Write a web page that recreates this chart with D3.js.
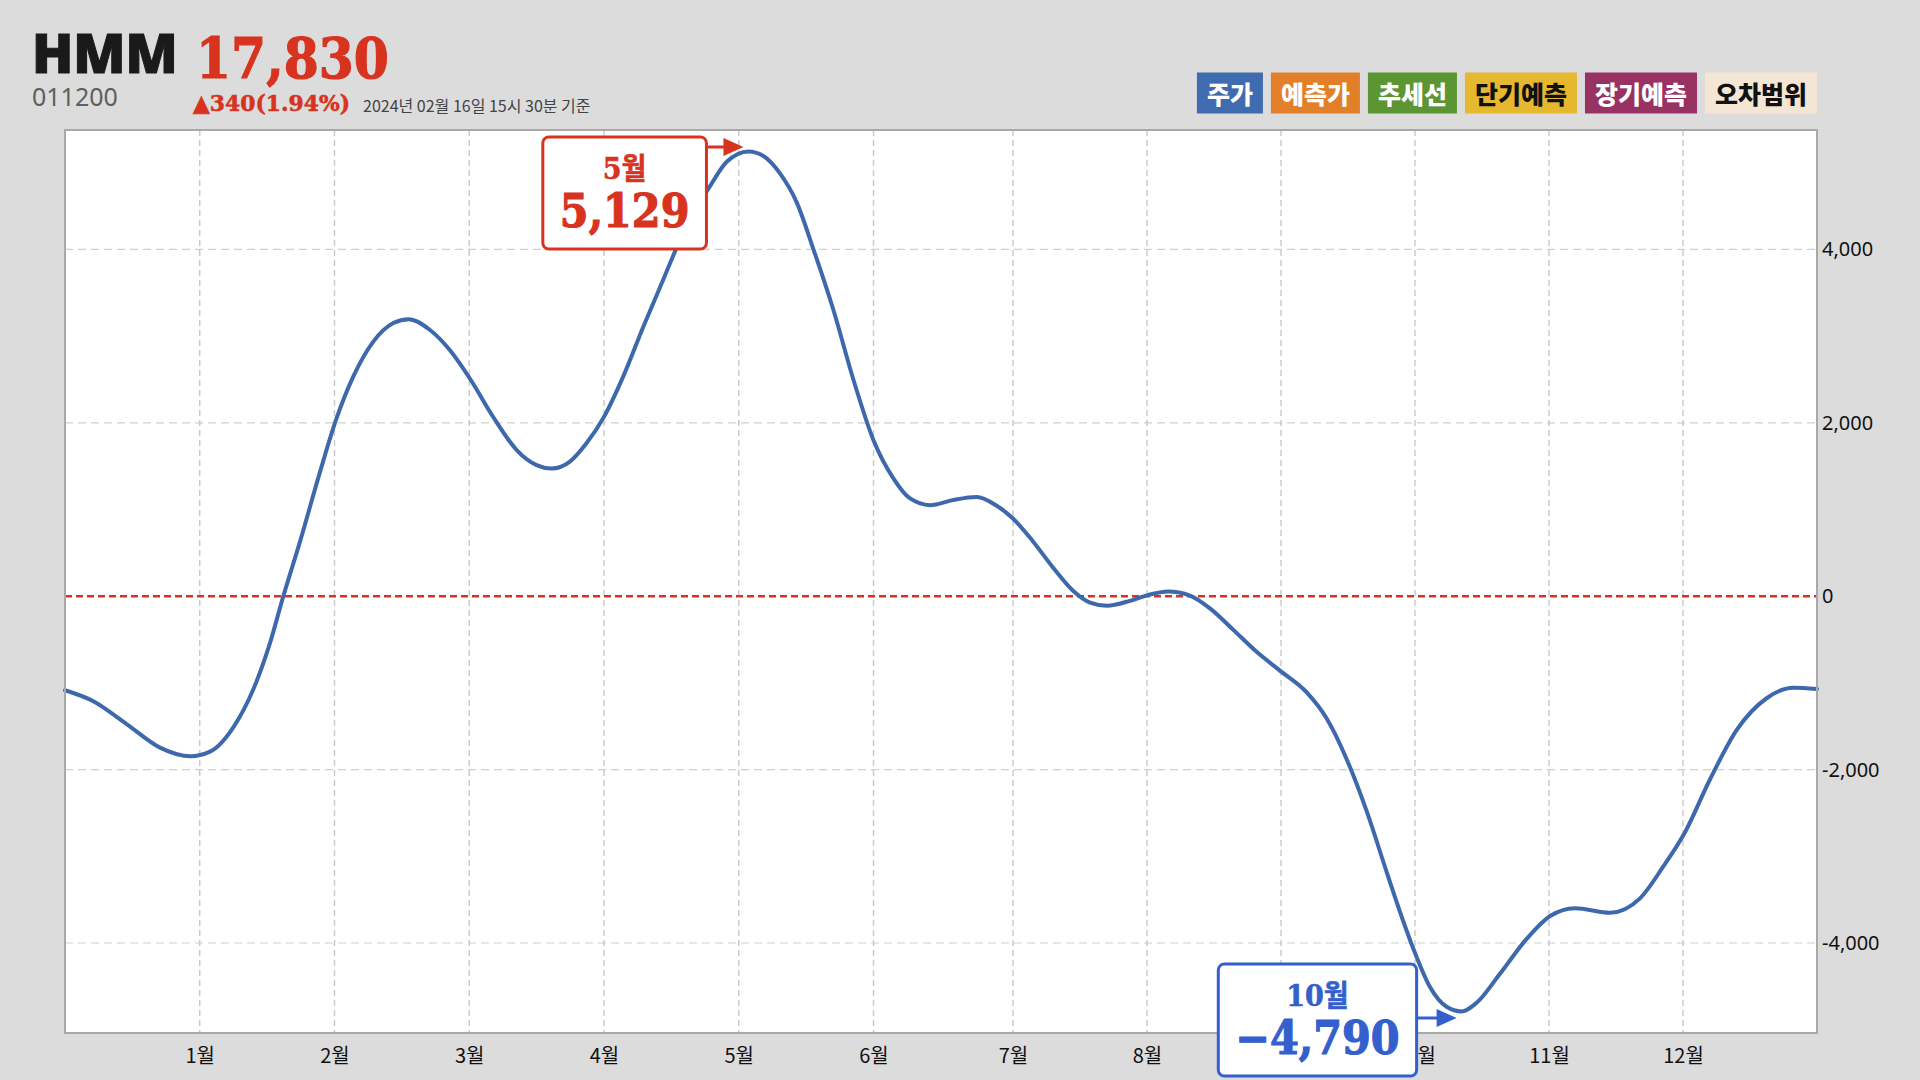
<!DOCTYPE html>
<html><head><meta charset="utf-8">
<script src="https://cdn.jsdelivr.net/npm/d3@7"></script>
<style>
html,body{margin:0;padding:0;background:#dcdcdc;}
svg{display:block;}
</style></head><body>
<svg id="chart" width="1920" height="1080"></svg>
<script>
// ---------- data ----------
const stockName = "HMM";
const stockCode = "011200";
const stockPrice = 17830;
const priceChange = 340;
const priceChangePct = 1.94;
const asOfText = "2024년 02월 16일 15시 30분 기준";

const legendLabels = ["주가", "예측가", "추세선", "단기예측", "장기예측", "오차범위"];
const legendColors = ["#3f6bb0", "#e2802a", "#5b9632", "#e6b82f", "#973262", "#f5e5d5"];
const legendTextColors = ["#ffffff", "#ffffff", "#ffffff", "#111111", "#ffffff", "#111111"];

const monthTicks = [1, 2, 3, 4, 5, 6, 7, 8, 9, 10, 11, 12];
const yTicks = [-4000, -2000, 0, 2000, 4000];

// position in months (tick k = start of month k) and value
const monthPos = [0.00, 0.21, 0.46, 0.705, 0.93, 1.076, 1.249, 1.397, 1.521, 1.62, 1.744, 1.892, 2.011, 2.14, 2.288, 2.437, 2.55, 2.709, 2.857, 3.008, 3.178, 3.352, 3.5, 3.611, 3.747, 3.871, 4.004, 4.143, 4.291, 4.44, 4.564, 4.688, 4.787, 4.911, 5.072, 5.183, 5.306, 5.43, 5.553, 5.702, 5.85, 6.0, 6.14, 6.26, 6.405, 6.572, 6.74, 6.883, 7.0, 7.151, 7.3, 7.45, 7.575, 7.70, 7.873, 8.005, 8.159, 8.321, 8.47, 8.644, 8.818, 9.007, 9.192, 9.341, 9.49, 9.64, 9.789, 9.913, 10.01, 10.112, 10.236, 10.348, 10.46, 10.634, 10.833, 11.012, 11.194, 11.455, 11.679, 11.853, 12.017, 12.201, 12.4, 12.624, 12.823, 13.0];
const values = [-1085, -1211, -1478, -1746, -1846, -1793, -1512, -1077, -542, 0, 629, 1431, 2033, 2535, 2936, 3150, 3195, 3070, 2836, 2502, 2067, 1686, 1512, 1472, 1552, 1766, 2080, 2535, 3104, 3652, 4107, 4480, 4730, 5010, 5129, 5077, 4876, 4542, 4007, 3304, 2502, 1799, 1365, 1130, 1050, 1110, 1144, 1043, 896, 629, 328, 60, -74, -110, -54, 13, 54, 7, -140, -388, -642, -876, -1110, -1411, -1880, -2482, -3184, -3752, -4154, -4508, -4736, -4790, -4689, -4355, -3953, -3686, -3599, -3652, -3485, -3117, -2716, -2114, -1545, -1177, -1057, -1070];

// ---------- layout ----------
const svg = d3.select("#chart");
const plot = {left: 65, right: 1817, top: 130, bottom: 1033};
const RED = "#d7331f", BLUE = "#3360cc", LINE = "#3d69ac";
const serif = "'DejaVu Serif', 'Noto Sans CJK KR', serif";
const sans = "'Noto Sans', 'Noto Sans CJK KR', sans-serif";
const kr = "'Noto Sans CJK KR', 'Noto Sans', sans-serif";

const data = monthPos.map((m, i) => ({m, v: values[i]}));
const vMin = d3.min(values), vMax = d3.max(values);
const pad = (vMax - vMin) * 0.025;

const x = d3.scaleLinear().domain([0, 6, 7, 13]).range([plot.left, 873.5, 1013, plot.right]);
const y = d3.scaleLinear().domain([vMin - pad, vMax + pad]).range([plot.bottom, plot.top]);

const fmt = d3.format(",");
const fmtH = v => fmt(v).replace("−", "-");

// plot background
svg.append("rect").attr("x", plot.left).attr("y", plot.top)
  .attr("width", plot.right - plot.left).attr("height", plot.bottom - plot.top)
  .attr("fill", "#ffffff");

// grid
svg.append("g").selectAll("line").data(yTicks.filter(t => t !== 0)).join("line")
  .attr("x1", plot.left).attr("x2", plot.right)
  .attr("y1", d => y(d)).attr("y2", d => y(d))
  .attr("stroke", "#cfcfcf").attr("stroke-width", 1.2).attr("stroke-dasharray", "8,5");
svg.append("g").selectAll("line").data(monthTicks).join("line")
  .attr("x1", d => x(d)).attr("x2", d => x(d))
  .attr("y1", plot.top).attr("y2", plot.bottom)
  .attr("stroke", "#c8c8c8").attr("stroke-width", 1.4).attr("stroke-dasharray", "6,4");

// zero line
svg.append("line").attr("x1", plot.left).attr("x2", plot.right)
  .attr("y1", y(0)).attr("y2", y(0))
  .attr("stroke", RED).attr("stroke-width", 2.5).attr("stroke-dasharray", "7,4");

// series line
const line = d3.line().x(d => x(d.m)).y(d => y(d.v)).curve(d3.curveMonotoneX);
svg.append("path").datum(data).attr("d", line)
  .attr("fill", "none").attr("stroke", LINE).attr("stroke-width", 4)
  .attr("stroke-linejoin", "round").attr("stroke-linecap", "round");

// border
svg.append("rect").attr("x", plot.left).attr("y", plot.top)
  .attr("width", plot.right - plot.left).attr("height", plot.bottom - plot.top)
  .attr("fill", "none").attr("stroke", "#a9a9a9").attr("stroke-width", 2);

// axes
const xAxis = svg.append("g").attr("transform", `translate(0,${plot.bottom})`)
  .call(d3.axisBottom(x).tickValues(monthTicks).tickFormat(d => d + "월").tickSize(0).tickPadding(16));
xAxis.select(".domain").remove();
xAxis.selectAll("text").attr("font-family", kr).attr("font-size", 20).attr("fill", "#111");

const yAxis = svg.append("g").attr("transform", `translate(${plot.right},0)`)
  .call(d3.axisRight(y).tickValues(yTicks).tickFormat(fmtH).tickSize(0).tickPadding(5));
yAxis.select(".domain").remove();
yAxis.selectAll("text").attr("font-family", sans).attr("font-size", 20).attr("fill", "#111");

// ---------- header ----------
svg.append("text").attr("x", 32).attr("y", 73).text(stockName)
  .attr("font-family", sans).attr("font-weight", 900).attr("font-size", 54).attr("fill", "#1a1a1a")
  .attr("stroke", "#1a1a1a").attr("stroke-width", 1);
svg.append("text").attr("transform", "translate(196,78) scale(0.9,1)").text(fmt(stockPrice))
  .attr("font-family", serif).attr("font-weight", 700).attr("font-size", 56).attr("fill", RED)
  .attr("stroke", RED).attr("stroke-width", 1.2);
svg.append("text").attr("x", 32).attr("y", 106).text(stockCode)
  .attr("font-family", sans).attr("font-size", 25).attr("fill", "#5f5f5f");
svg.append("text").attr("transform", "translate(193,111) scale(0.95,1)").text(`▲${priceChange}(${priceChangePct.toFixed(2)}%)`)
  .attr("font-family", serif).attr("font-weight", 700).attr("font-size", 23).attr("fill", RED)
  .attr("stroke", RED).attr("stroke-width", 0.6);
svg.append("text").attr("x", 363).attr("y", 112).text(asOfText)
  .attr("font-family", kr).attr("font-size", 16).attr("fill", "#444");

// ---------- legend ----------
const legG = svg.append("g");
const items = legendLabels.map((l, i) => {
  const g = legG.append("g");
  const r = g.append("rect").attr("height", 41).attr("fill", legendColors[i]);
  const t = g.append("text").text(l).attr("font-family", kr).attr("font-weight", 900)
    .attr("font-size", 25).attr("fill", legendTextColors[i]).attr("text-anchor", "middle")
    .attr("dominant-baseline", "central");
  const w = t.node().getComputedTextLength() + 20;
  r.attr("width", w);
  return {g, r, t, w};
});
let cursor = plot.right;
for (let i = items.length - 1; i >= 0; i--) {
  const it = items[i];
  const left = cursor - it.w;
  it.r.attr("x", left).attr("y", 72.5);
  it.t.attr("x", left + it.w / 2).attr("y", 93);
  cursor = left - 8;
}

// ---------- annotations ----------
function annotate(pt, color, opts) {
  const px = x(pt.m), py = y(pt.v);
  const g = svg.append("g");
  const label = Math.floor(pt.m) + "월";
  const sx = 0.9;
  const lab = g.append("text").text(label).attr("font-family", serif).attr("font-weight", 700)
    .attr("font-size", 30).attr("fill", color).attr("text-anchor", "middle")
    .attr("stroke", color).attr("stroke-width", 0.6);
  const val = g.append("text").text(fmt(pt.v)).attr("font-family", serif).attr("font-weight", 700)
    .attr("font-size", 46).attr("fill", color).attr("text-anchor", "middle")
    .attr("stroke", color).attr("stroke-width", 1.2);
  const tw = val.node().getComputedTextLength() * sx;
  const bw = tw + 34, bh = 112;
  const bRight = px - opts.dx;
  const bLeft = bRight - bw;
  const bTop = py + opts.boxDy;
  const cx = bLeft + bw / 2;
  g.insert("rect", "text").attr("x", bLeft).attr("y", bTop).attr("width", bw).attr("height", bh)
    .attr("rx", 6).attr("fill", "#fff").attr("stroke", color).attr("stroke-width", 3);
  lab.attr("transform", `translate(${cx},${bTop + 42}) scale(${sx},1)`);
  val.attr("transform", `translate(${cx},${bTop + 90}) scale(${sx},1)`);
  const ay = py + opts.arrowDy;
  const tipX = px - 5;
  g.append("line").attr("x1", bRight).attr("x2", tipX - 16).attr("y1", ay).attr("y2", ay)
    .attr("stroke", color).attr("stroke-width", 3);
  g.append("path").attr("d", d3.line()([[tipX - 20, ay - 9], [tipX, ay], [tipX - 20, ay + 9]]) + "Z")
    .attr("fill", color);
}
const maxPt = data[d3.maxIndex(data, d => d.v)];
const minPt = data[d3.minIndex(data, d => d.v)];
annotate(maxPt, RED, {dx: 42, boxDy: -14.5, arrowDy: -4.5});
annotate(minPt, BLUE, {dx: 45, boxDy: -47.5, arrowDy: 6.5});
</script>
</body></html>
